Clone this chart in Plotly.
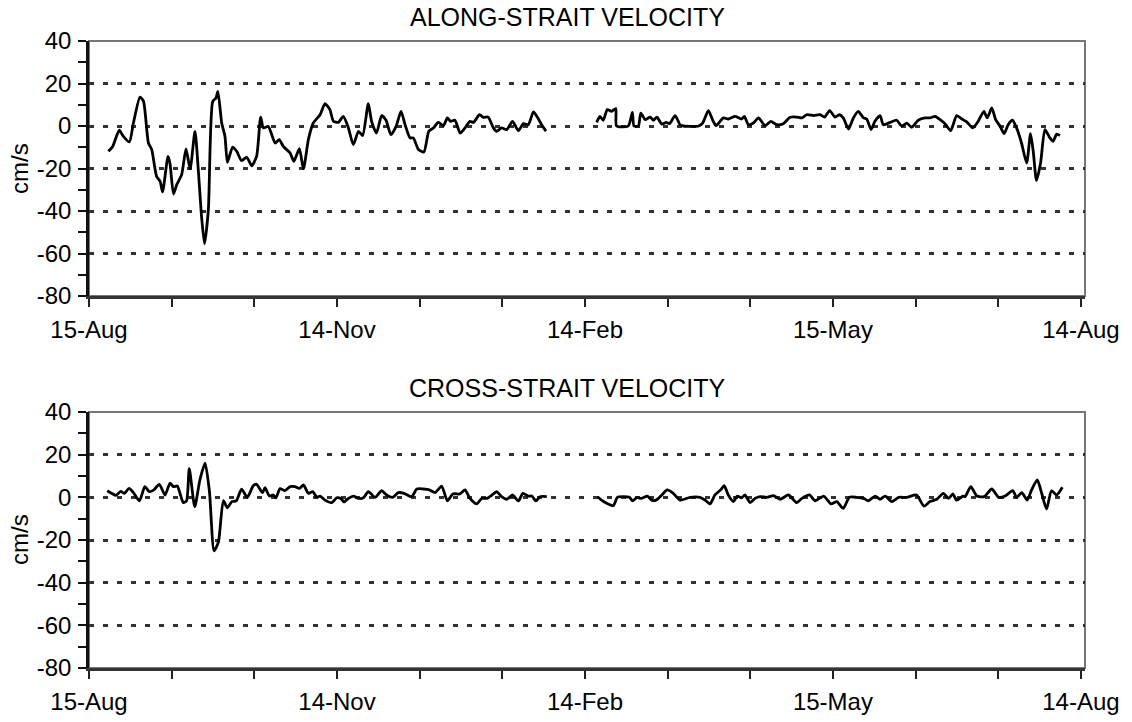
import plotly.graph_objects as go

# ---- data (day offset from 15-Aug, velocity in cm/s); None marks data gap ----
along_days = [7.1, 8.7, 11.1, 12.6, 14.8, 16.3, 18.7, 20.0, 21.8, 23.0, 24.8, 26.1, 27.0, 29.0, 29.7,
              31.0, 32.2, 34.0, 35.6, 37.1, 38.9, 40.1, 41.3, 42.4, 43.8, 45.4, 46.6, 47.3, 48.7, 49.9,
              50.8, 52.7, 54.2, 56.0, 57.9, 59.7, 61.5, 63.0, 64.0, 65.8, 68.3, 69.8, 71.3, 73.8, 75.2,
              77.2, 78.7, 80.5, 82.3, 84.8, 86.6, 88.4, 89.7, 91.5, 93.3, 95.2, 97.0, 98.9, 100.4, 102.5,
              103.7, 105.5, 107.4, 109.0, 110.8, 112.7, 114.5, 116.0, 117.8, 119.0, 120.9, 122.9, 124.7,
              126.4, 128.2, 130.1, 131.5, 132.7, 134.3, 136.2, 138.0, 139.8, 141.1, 143.3, 144.7, 146.5,
              148.4, 149.6, 151.4, 153.3, 155.4, 157.6, 159.4, 161.2, 163.1, 164.5, 166.1, 167.7,
              None,
              186.3, 187.5, 188.7, 190.2, 191.8, 193.3, 193.6, 197.9, 199.4, 200.0, 201.6, 202.5, 204.1,
              205.9, 207.1, 208.4, 210.2, 211.8, 213.0, 215.1, 216.9, 218.2, 223.7, 225.2, 227.3, 228.9,
              230.1, 232.8, 234.6, 237.1, 239.5, 240.5, 242.0, 243.8, 245.7, 248.1, 250.2, 252.4, 254.8,
              257.3, 259.7, 261.6, 263.4, 265.9, 268.3, 269.9, 271.8, 273.8, 275.4, 276.8, 278.7, 280.5,
              282.3, 284.2, 285.4, 287.0, 288.4, 290.3, 291.5, 294.0, 296.4, 298.2, 300.1, 301.9, 304.3,
              306.8, 308.6, 310.5, 312.3, 314.1, 316.2, 318.4, 320.3, 322.1, 324.3, 326.3, 328.4, 329.6,
              331.3, 332.7, 334.3, 335.8, 337.3, 338.9, 340.4, 342.2, 344.1, 345.5, 346.5, 347.7, 349.2,
              350.8, 352.6, 353.8, 355.1, 356.3]
along_vel = [-11.9, -9.6, -2.0, -4.9, -7.5, 1.4, 13.6, 11.6, -8.0, -11.0, -23.7, -26.0, -31.0, -14.3, -17.4,
             -32.0, -27.6, -22.9, -10.8, -20.2, -2.5, -20.5, -42.5, -55.4, -39.4, 11.6, 13.2, 16.3, 1.4, -4.9,
             -17.1, -9.9, -11.9, -16.3, -14.7, -18.7, -14.3, 4.2, -0.9, -0.2, -8.0, -6.4, -9.6, -12.7, -16.6,
             -10.7, -20.2, -6.4, 1.4, 5.3, 10.5, 7.7, 2.2, 1.7, 4.5, -0.9, -8.8, -2.5, -4.5, 10.5,
             2.2, -3.3, 4.9, 2.7, -4.1, -0.2, 6.9, 0.6, -5.6, -5.6, -11.1, -12.2, -2.5,
             -0.9, 1.7, 0.2, 3.8, 2.2, 2.7, -3.3, -0.9, 2.2, 1.7, 5.3, 4.1, 4.2,
             -0.9, -2.5, -0.9, -1.7, 2.2, -2.2, 1.1, 0.6, 6.6, 4.2, 0.6, -2.4,
             None,
             1.7, 4.5, 2.7, 7.7, 6.9, 8.2, 0.0, 0.0, 6.4, 0.0, 0.0, 6.1, 3.0,
             4.2, 2.7, 4.2, 0.9, 1.7, 1.1, 4.9, 0.6, 0.0, 0.0, 1.4, 7.2, 2.7,
             0.2, 3.8, 3.3, 4.5, 3.3, 4.5, 0.6, 1.4, 3.8, 0.2, 2.2, 0.6, 1.1,
             4.1, 4.2, 3.8, 5.3, 4.9, 5.3, 4.2, 7.2, 4.2, 5.3, 3.8, -1.4, 3.8,
             6.9, 3.8, 3.3, -1.7, 2.2, 4.9, 0.6, 1.7, 2.7, 0.0, 1.4, -0.6, 2.7,
             3.8, 3.8, 4.5, 3.0, 1.1, -2.2, 4.9, 3.3, 1.9, -0.9, 2.2, 6.9, 3.8,
             8.5, 3.0, 0.0, -3.6, 0.6, 2.7, -0.9, -8.0, -17.4, -3.6, -11.9, -25.6, -17.4,
             -1.7, -5.6, -7.2, -3.8, -4.5]

cross_days = [6.7, 8.3, 9.9, 11.6, 13.0, 14.7, 16.3, 18.5, 20.5, 22.1, 23.8, 25.8, 27.9, 29.7, 31.0,
              32.4, 34.6, 35.8, 36.8, 38.8, 40.7, 42.6, 44.2, 45.9, 47.5, 49.3, 50.8, 52.4, 54.0, 56.0,
              58.1, 60.3, 61.5, 63.7, 64.6, 66.2, 67.6, 68.6, 70.1, 71.9, 73.8, 75.6, 77.2, 78.7, 80.5,
              82.1, 83.6, 84.8, 86.6, 89.1, 90.9, 92.4, 93.6, 95.2, 97.0, 98.9, 100.7, 102.5, 105.0,
              107.4, 109.2, 111.4, 113.5, 115.6, 118.4, 120.3, 122.7, 124.9, 127.0, 129.4, 131.5, 133.5,
              136.1, 138.0, 139.8, 142.3, 144.1, 146.0, 148.4, 149.6, 151.4, 153.3, 155.4, 157.6, 159.2,
              161.2, 162.5, 164.0, 165.5, 168.0,
              None,
              186.6, 188.1, 190.0, 192.4, 193.9, 196.1, 198.3, 199.5, 201.0, 202.8, 204.9, 206.5, 208.1,
              210.2, 212.2, 214.4, 216.9, 220.6, 224.2, 226.1, 227.9, 229.7, 231.8, 233.1, 234.6, 236.5,
              237.9, 239.5, 240.7, 242.6, 244.4, 246.3, 248.7, 251.2, 253.6, 256.7, 259.7, 261.6, 264.4,
              266.5, 269.6, 272.3, 274.4, 276.8, 279.0, 281.7, 284.2, 286.0, 288.5, 290.3, 292.2, 294.6,
              297.1, 300.1, 303.7, 306.4, 308.6, 311.1, 313.5, 315.4, 317.0, 318.4, 320.7, 321.5, 323.6,
              325.8, 328.5, 331.3, 333.8, 336.2, 339.0, 340.4, 342.3, 344.3, 345.9, 348.0, 349.6, 351.4,
              353.2, 355.1, 357.2]
cross_vel = [3.1, 1.9, 0.9, 2.8, 1.9, 4.2, 2.2, -1.6, 5.0, 2.7, 3.5, 6.1, 1.1, 6.6, 5.0,
             5.3, -2.5, -1.6, 13.5, -4.4, 8.2, 16.0, 2.7, -25.1, -20.9, -1.6, -4.9, -2.0, -1.7, 3.8,
             0.0, 5.5, 6.1, 2.2, 4.5, 0.6, 1.1, -0.2, 4.1, 3.1, 5.0, 5.0, 4.2, 5.8, 1.9,
             2.7, 0.0, 0.6, -1.3, -2.5, -0.2, -0.5, -2.2, -0.5, 0.6, -0.5, -0.2, 2.7, 0.0,
             3.1, 1.1, 0.0, 2.2, 1.9, 0.3, 3.9, 3.9, 3.5, 2.2, 5.3, -1.6, 1.6,
             1.6, 3.5, -0.5, -3.1, -0.5, -0.5, 1.6, 2.7, 0.3, -0.9, 1.1, -1.7, 1.9,
             0.6, 0.6, -1.7, 0.3, 0.3,
             None,
             0.3, -1.3, -2.8, -3.9, 0.0, 0.3, 0.0, -1.7, -0.2, -0.5, 0.6, -1.3, -1.3,
             1.1, 3.5, 1.9, -1.3, 0.0, 0.0, -1.3, -3.1, 1.1, 3.5, 5.5, 1.1, -2.0,
             0.6, -0.2, 1.1, -2.5, -0.5, 0.3, 0.0, 0.8, -0.9, 1.1, -2.5, -0.5, 1.1,
             -1.6, 0.6, -3.1, -2.0, -5.2, 0.0, 0.0, -0.5, -1.6, 0.6, -0.9, 0.6, -2.0,
             0.0, 0.0, 1.1, -4.1, -2.0, -0.9, 1.9, -0.5, 1.6, -1.3, 0.6, 0.3, 5.0,
             0.6, 0.3, 3.9, 0.0, 0.6, 3.1, 0.0, 2.2, -1.3, 3.5, 8.2, 1.9, -5.5,
             3.1, 1.1, 4.7]

tick_days = [0, 91, 182, 273, 364]
tick_labels = ["15-Aug", "14-Nov", "14-Feb", "15-May", "14-Aug"]
y_ticks = [-80, -60, -40, -20, 0, 20, 40]
y_tick_labels = ["-80", "-60", "-40", "-20", "0", "20", "40"]
titles = ["ALONG-STRAIT VELOCITY", "CROSS-STRAIT VELOCITY"]
y_label = "cm/s"

FONT = "Liberation Sans, Arial, sans-serif"
W, H = 1132, 722
L, R, T, B = 89, 47, 41, 54
plot_h = H - T - B
top_dom = [(668 - 296) / plot_h, 1.0]
bot_dom = [0.0, (668 - 412) / plot_h]

fig = go.Figure()
fig.add_trace(go.Scatter(x=along_days, y=along_vel, mode="lines", connectgaps=False,
                         line=dict(color="black", width=2.8, shape="spline", smoothing=0.6),
                         xaxis="x", yaxis="y", showlegend=False, hoverinfo="skip"))
fig.add_trace(go.Scatter(x=cross_days, y=cross_vel, mode="lines", connectgaps=False,
                         line=dict(color="black", width=2.8, shape="spline", smoothing=0.6),
                         xaxis="x2", yaxis="y2", showlegend=False, hoverinfo="skip"))

def xaxis(anchor):
    return dict(domain=[0, 1], anchor=anchor, range=[0, 365.5], showgrid=False, zeroline=False,
                tickmode="array", tickvals=tick_days, ticktext=tick_labels,
                ticks="outside", ticklen=8, tickwidth=2, tickcolor="#222",
                showline=True, linecolor="#333", linewidth=2.5,
                minor=dict(tickmode="linear", tick0=0, dtick=91 / 3, ticks="outside",
                           ticklen=8, tickwidth=2, tickcolor="#222", showgrid=False),
                tickfont=dict(family=FONT, size=24, color="black"), ticklabelstandoff=2,
                automargin=False)

def yaxis(anchor, dom):
    return dict(domain=dom, anchor=anchor, range=[-80, 40], tickmode="array",
                tickvals=y_ticks, ticktext=y_tick_labels,
                showgrid=True, gridcolor="#333", gridwidth=2.6, griddash="5px,9px",
                zeroline=False, ticks="outside", ticklen=8, tickwidth=2, tickcolor="#111",
                showline=True, linecolor="#111", linewidth=2.5,
                minor=dict(tickmode="linear", tick0=-80, dtick=10, ticks="outside",
                           ticklen=8, tickwidth=2, tickcolor="#111", showgrid=False),
                tickfont=dict(family=FONT, size=24, color="black"), ticklabelstandoff=2,
                automargin=False)

fig.update_layout(
    width=W, height=H, margin=dict(l=L, r=R, t=T, b=B, autoexpand=False),
    paper_bgcolor="white", plot_bgcolor="white",
    xaxis=xaxis("y"), yaxis=yaxis("x", top_dom),
    xaxis2=xaxis("y2"), yaxis2=yaxis("x2", bot_dom),
    showlegend=False,
)

# frame around each panel
for xr, yr in (("x", "y"), ("x2", "y2")):
    fig.add_shape(type="rect", xref=f"{xr} domain", yref=f"{yr} domain", x0=0, x1=1, y0=0, y1=1,
                  line=dict(color="#777", width=2), layer="below")

def py(p):
    return (H - B - p) / plot_h

for title, yc in zip(titles, (17, 388)):
    fig.add_annotation(text=title, x=(567 - L) / (W - L - R), y=py(yc), xref="paper", yref="paper",
                       xanchor="center", yanchor="middle", showarrow=False,
                       font=dict(family=FONT, size=25, color="black"))
for yc in (169, 540):
    fig.add_annotation(text=y_label, x=(19 - L) / (W - L - R), y=py(yc), xref="paper", yref="paper",
                       xanchor="center", yanchor="middle", textangle=-90, showarrow=False,
                       font=dict(family=FONT, size=24, color="black"))

fig.write_html("out.html", config={"displayModeBar": False},
               post_script="document.body.style.margin='0';")
